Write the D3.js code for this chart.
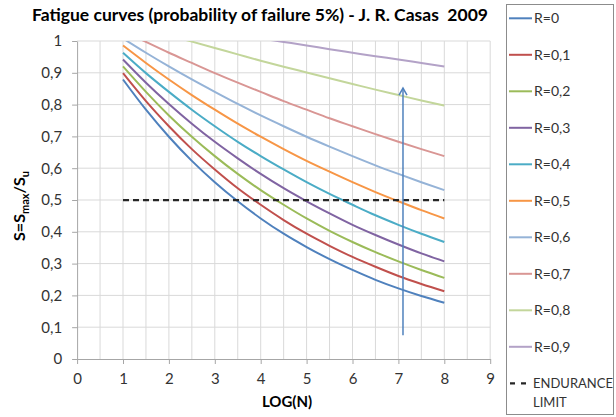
<!DOCTYPE html>
<html>
<head>
<meta charset="utf-8">
<script src="https://cdn.jsdelivr.net/npm/d3@7"></script>
<style>
  html, body { margin: 0; padding: 0; background: #fff; }
  svg { display: block; font-family: Lato, "Open Sans", sans-serif; }
</style>
</head>
<body>
<svg id="chart" width="616" height="417"></svg>
<script>
// ---------------- DATA ----------------
const titleText = "Fatigue curves (probability of failure 5%) - J. R. Casas  2009";
const xTickValues = [0, 1, 2, 3, 4, 5, 6, 7, 8, 9];
const xTickLabels = ["0", "1", "2", "3", "4", "5", "6", "7", "8", "9"];
const yTickValues = [0, 0.1, 0.2, 0.3, 0.4, 0.5, 0.6, 0.7, 0.8, 0.9, 1];
const yTickLabels = ["0", "0,1", "0,2", "0,3", "0,4", "0,5", "0,6", "0,7", "0,8", "0,9", "1"];

// LOG(N) sample points
const logN = [1, 1.5, 2, 2.5, 3, 3.5, 4, 4.5, 5, 5.5, 6, 6.5, 7, 7.5, 8];

const seriesNames = ["R=0", "R=0,1", "R=0,2", "R=0,3", "R=0,4", "R=0,5", "R=0,6", "R=0,7", "R=0,8", "R=0,9"];
const sR00 = [0.879, 0.784, 0.699, 0.623, 0.556, 0.496, 0.442, 0.394, 0.352, 0.314, 0.280, 0.249, 0.222, 0.198, 0.177];
const sR01 = [0.899, 0.811, 0.732, 0.660, 0.596, 0.537, 0.485, 0.437, 0.394, 0.356, 0.321, 0.290, 0.261, 0.236, 0.213];
const sR02 = [0.920, 0.840, 0.766, 0.699, 0.638, 0.582, 0.531, 0.485, 0.442, 0.403, 0.368, 0.336, 0.307, 0.280, 0.255];
const sR03 = [0.942, 0.869, 0.802, 0.740, 0.683, 0.631, 0.582, 0.537, 0.496, 0.458, 0.422, 0.390, 0.360, 0.332, 0.307];
const sR04 = [0.963, 0.899, 0.840, 0.784, 0.732, 0.683, 0.638, 0.596, 0.556, 0.519, 0.485, 0.452, 0.422, 0.394, 0.368];
const sR05 = [0.986, 0.931, 0.879, 0.830, 0.784, 0.740, 0.699, 0.660, 0.623, 0.589, 0.556, 0.525, 0.496, 0.468, 0.442];
const sR06 = [1.008, 0.963, 0.920, 0.879, 0.840, 0.802, 0.766, 0.732, 0.699, 0.668, 0.638, 0.609, 0.582, 0.556, 0.531];
const sR07 = [1.032, 0.997, 0.963, 0.931, 0.899, 0.869, 0.840, 0.811, 0.784, 0.757, 0.732, 0.707, 0.683, 0.660, 0.638];
const sR08 = [1.061, 1.039, 1.018, 0.998, 0.978, 0.958, 0.938, 0.919, 0.901, 0.883, 0.865, 0.847, 0.830, 0.813, 0.797];
const sR09 = [1.080, 1.068, 1.056, 1.044, 1.032, 1.020, 1.008, 0.997, 0.986, 0.974, 0.963, 0.952, 0.942, 0.931, 0.920];
const seriesValues = [sR00, sR01, sR02, sR03, sR04, sR05, sR06, sR07, sR08, sR09];

const enduranceName = ["ENDURANCE", "LIMIT"];
const enduranceX = [1, 8];
const enduranceY = [0.5, 0.5];

const arrowX = [7.1, 7.1];
const arrowY = [0.075, 0.852];

// ---------------- STYLE ----------------
const seriesColors = ["#4F81BD", "#C0504D", "#9BBB59", "#8064A2", "#4BACC6", "#F79646",
                      "#95B3D7", "#D99694", "#C3D69B", "#B3A2C7"];
const plot = { left: 77.1, right: 490.2, top: 41, bottom: 359 };

const svg = d3.select("#chart");

const x = d3.scaleLinear().domain([0, 9]).range([plot.left, plot.right]);
const y = d3.scaleLinear().domain([0, 1]).range([plot.bottom, plot.top]);

// gridlines
const grid = svg.append("g").attr("class", "grid");
grid.selectAll("line.v")
  .data(d3.range(1, 19).map(i => i * 0.5))
  .join("line")
  .attr("x1", d => x(d)).attr("x2", d => x(d))
  .attr("y1", plot.top).attr("y2", plot.bottom)
  .attr("stroke", "#d9d9d9").attr("stroke-width", 1);
grid.selectAll("line.h")
  .data(yTickValues.slice(1))
  .join("line")
  .attr("x1", plot.left).attr("x2", plot.right)
  .attr("y1", d => y(d)).attr("y2", d => y(d))
  .attr("stroke", "#d9d9d9").attr("stroke-width", 1);

// axes
const xAxis = d3.axisBottom(x).tickValues(xTickValues)
  .tickFormat((d, i) => xTickLabels[i]).tickSizeInner(5).tickSizeOuter(0).tickPadding(9);
const yAxis = d3.axisLeft(y).tickValues(yTickValues)
  .tickFormat((d, i) => yTickLabels[i]).tickSizeInner(5).tickSizeOuter(0).tickPadding(10);

const gx = svg.append("g").attr("transform", `translate(0,${plot.bottom})`).call(xAxis);
const gy = svg.append("g").attr("transform", `translate(${plot.left},0)`).call(yAxis);
[gx, gy].forEach(g => {
  g.select(".domain").attr("stroke", "#a6a6a6");
  g.selectAll(".tick line").attr("stroke", "#a6a6a6");
  g.selectAll(".tick text").attr("fill", "#333")
    .style("font-family", "Lato, sans-serif").style("font-size", "15px");
});

// clip
svg.append("clipPath").attr("id", "clip").append("rect")
  .attr("x", plot.left).attr("y", plot.top)
  .attr("width", plot.right - plot.left).attr("height", plot.bottom - plot.top);

const line = d3.line().x(d => x(d[0])).y(d => y(d[1])).curve(d3.curveMonotoneX);

const curves = svg.append("g").attr("clip-path", "url(#clip)");
seriesValues.forEach((vals, i) => {
  curves.append("path")
    .datum(logN.map((n, j) => [n, vals[j]]))
    .attr("d", line)
    .attr("fill", "none")
    .attr("stroke", seriesColors[i])
    .attr("stroke-width", 2);
});

// endurance limit
svg.append("path")
  .datum(enduranceX.map((n, j) => [n, enduranceY[j]]))
  .attr("d", d3.line().x(d => x(d[0])).y(d => y(d[1])))
  .attr("stroke", "#262626").attr("stroke-width", 2.25)
  .attr("stroke-dasharray", "6,4").attr("fill", "none");

// arrow
const ax = x(arrowX[0]);
svg.append("line")
  .attr("x1", ax).attr("x2", x(arrowX[1]))
  .attr("y1", y(arrowY[0])).attr("y2", y(arrowY[1]))
  .attr("stroke", "#4F81BD").attr("stroke-width", 1.5);
svg.append("path")
  .attr("d", `M${ax - 4},${y(arrowY[1]) + 7} L${ax},${y(arrowY[1])} L${ax + 4},${y(arrowY[1]) + 7}`)
  .attr("fill", "none").attr("stroke", "#4F81BD").attr("stroke-width", 1.5);

// title
svg.append("text")
  .attr("x", 32).attr("y", 21)
  .attr("fill", "#000")
  .attr("xml:space", "preserve")
  .style("white-space", "pre")
  .style("font-family", "Lato, sans-serif")
  .style("font-weight", "bold").style("font-size", "17.5px")
  .text(titleText);

// x label
svg.append("text")
  .attr("x", 287).attr("y", 407)
  .attr("text-anchor", "middle")
  .style("font-weight", "bold").style("font-size", "15px")
  .text("LOG(N)");

// y label
const yl = svg.append("text")
  .attr("transform", "translate(25,206) rotate(-90)")
  .attr("text-anchor", "middle")
  .style("font-weight", "bold").style("font-size", "16px");
yl.append("tspan").text("S=S");
yl.append("tspan").attr("dy", 4).style("font-size", "11px").text("max");
yl.append("tspan").attr("dy", -4).text("/S");
yl.append("tspan").attr("dy", 4).style("font-size", "11px").text("u");

// legend
const lg = svg.append("g");
lg.append("rect")
  .attr("x", 506.5).attr("y", 4.5).attr("width", 107).attr("height", 410)
  .attr("fill", "#fff").attr("stroke", "#8c8c8c").attr("stroke-width", 1);
const legendY0 = 18.3, legendStep = 36.5;
seriesNames.forEach((name, i) => {
  const ly = legendY0 + i * legendStep;
  lg.append("line").attr("x1", 509).attr("x2", 532).attr("y1", ly).attr("y2", ly)
    .attr("stroke", seriesColors[i]).attr("stroke-width", 2);
  lg.append("text").attr("x", 534).attr("y", ly + 5)
    .attr("fill", "#333").style("font-size", "14px").text(name);
});
const ely = legendY0 + 10 * legendStep;
lg.append("line").attr("x1", 510).attr("x2", 528).attr("y1", ely).attr("y2", ely)
  .attr("stroke", "#262626").attr("stroke-width", 2.25).attr("stroke-dasharray", "5,6");
lg.append("text").attr("x", 533).attr("y", ely + 5)
  .attr("fill", "#333").style("font-size", "13px").text(enduranceName[0]);
lg.append("text").attr("x", 533).attr("y", ely + 24)
  .attr("fill", "#333").style("font-size", "13px").text(enduranceName[1]);
</script>
</body>
</html>
